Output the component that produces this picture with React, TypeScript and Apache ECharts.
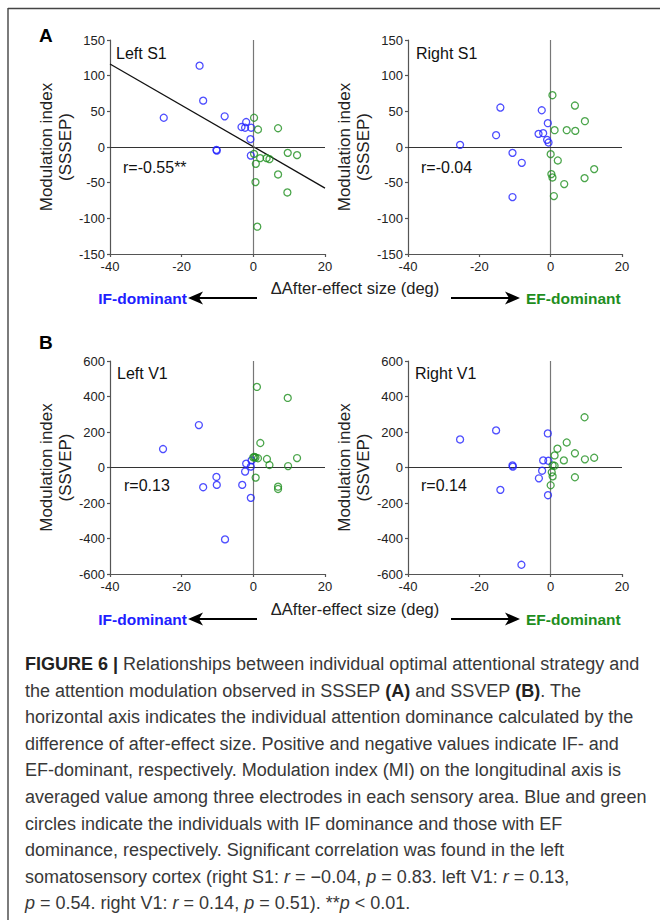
import React, { useEffect, useRef } from "react";
import * as echarts from "echarts";

const FONT = '"Liberation Sans", Arial, Helvetica, sans-serif';
const BLUE = "#2020ff";
const GREEN = "#1e8e1e";

// x-axis: ΔAfter-effect size (deg); y: modulation index
const xRange = { min: -40, max: 20, interval: 20 };

const leftS1Blue: [number, number][] = [
  [-15, 114], [-14, 65], [-25, 41], [-8, 43], [-10.3, -4], [-10.2, -5],
  [-2, 35], [-3.3, 28], [-2.3, 27], [-0.6, 27], [-0.8, 11], [-0.7, -12],
];
const leftS1Green: [number, number][] = [
  [0.2, 41], [1.3, 24.5], [6.9, 26.3], [0.2, -9.6], [0.7, -23.6], [1.9, -15.6],
  [3.7, -15.6], [4.5, -17], [9.6, -8.2], [12.2, -11.4], [6.9, -38.5], [0.6, -49.2],
  [9.5, -63.7], [1.1, -111.7],
];
const leftS1Regression: [number, number][] = [[-40, 116.4], [20, -57.6]];

const rightS1Blue: [number, number][] = [
  [-25.4, 3], [-14.1, 55.3], [-15.3, 16.6], [-10.7, -8.2], [-8.1, -22.2], [-10.7, -70.2],
  [-2.5, 51.5], [-0.8, 33.4], [-3.4, 18.4], [-2.1, 19.4], [-1.0, 10], [-0.6, 6.3],
];
const rightS1Green: [number, number][] = [
  [0.5, 72.6], [6.8, 58.1], [9.6, 36.2], [1.1, 23.6], [4.5, 23.6], [6.9, 22.6],
  [0.0, -10], [2.0, -18.9], [0.2, -38], [0.5, -42.7], [3.8, -52], [9.5, -43.6],
  [12.2, -31], [0.9, -68.8],
];

const leftV1Blue: [number, number][] = [
  [-25.2, 104], [-15.2, 239], [-14.0, -111], [-10.3, -53], [-10.2, -98], [-7.9, -405],
  [-3.1, -98], [-2.3, -23], [-2.0, 22], [-0.7, 5], [-0.5, 40], [-0.7, -171],
];
const leftV1Green: [number, number][] = [
  [1.0, 454], [9.6, 392], [1.95, 138], [0.0, 57], [0.6, 56], [1.3, 52],
  [3.8, 48], [12.2, 53], [4.5, 14], [9.7, 8], [0.65, -57], [6.9, -108],
  [6.9, -121], [0.3, 60],
];

const rightV1Blue: [number, number][] = [
  [-25.4, 158], [-15.3, 209], [-14.1, -126], [-10.7, 12], [-10.6, 5], [-8.2, -548],
  [-0.8, 192], [-2.1, 40], [-0.65, 38], [-2.4, -18], [-3.3, -61], [-0.75, -156],
];
const rightV1Green: [number, number][] = [
  [9.5, 283], [4.5, 141], [1.9, 106], [6.8, 80], [1.1, 68], [3.7, 40],
  [9.6, 46], [12.2, 55], [0.55, 12], [1.1, 10], [0.3, -27], [0.55, -50],
  [0.0, -100], [6.8, -55],
];

const panelTitles = ["Left S1", "Right S1", "Left V1", "Right V1"];
const panelStats = ["r=-0.55**", "r=-0.04", "r=0.13", "r=0.14"];
const yNames = [
  "Modulation index\n(SSSEP)",
  "Modulation index\n(SSSEP)",
  "Modulation index\n(SSVEP)",
  "Modulation index\n(SSVEP)",
];
const yRanges = [
  { min: -150, max: 150, interval: 50 },
  { min: -150, max: 150, interval: 50 },
  { min: -600, max: 600, interval: 200 },
  { min: -600, max: 600, interval: 200 },
];
const panelBlue = [leftS1Blue, rightS1Blue, leftV1Blue, rightV1Blue];
const panelGreen = [leftS1Green, rightS1Green, leftV1Green, rightV1Green];

const xAxisTitle = "ΔAfter-effect size (deg)";
const leftArrowLabel = "IF-dominant";
const rightArrowLabel = "EF-dominant";

const captionLines = [
  "{b|FIGURE 6 |} Relationships between individual optimal attentional strategy and",
  "the attention modulation observed in SSSEP {b|(A)} and SSVEP {b|(B)}. The",
  "horizontal axis indicates the individual attention dominance calculated by the",
  "difference of after-effect size. Positive and negative values indicate IF- and",
  "EF-dominant, respectively. Modulation index (MI) on the longitudinal axis is",
  "averaged value among three electrodes in each sensory area. Blue and green",
  "circles indicate the individuals with IF dominance and those with EF",
  "dominance, respectively. Significant correlation was found in the left",
  "somatosensory cortex (right S1: {i|r} = −0.04, {i|p} = 0.83. left V1: {i|r} = 0.13,",
  "{i|p} = 0.54. right V1: {i|r} = 0.14, {i|p} = 0.51). **{i|p} < 0.01.",
];

const grids = [
  { left: 110, top: 40, width: 215, height: 214 },
  { left: 408, top: 40, width: 214, height: 214 },
  { left: 110, top: 361, width: 215, height: 213 },
  { left: 408, top: 361, width: 214, height: 213 },
];

const AXIS_COLOR = "#555";

function arrow(x1: number, x2: number, y: number) {
  // x2 is the tip
  const dir = x2 > x1 ? 1 : -1;
  return [
    {
      type: "line",
      shape: { x1, y1: y, x2: x2 - dir * 8, y2: y },
      style: { stroke: "#000", lineWidth: 2.2 },
    },
    {
      type: "polygon",
      shape: {
        points: [
          [x2, y],
          [x2 - dir * 15, y - 6.5],
          [x2 - dir * 11, y],
          [x2 - dir * 15, y + 6.5],
        ],
      },
      style: { fill: "#000" },
    },
  ];
}

export default function App() {
  const ref = useRef<HTMLDivElement>(null);
  useEffect(() => {
    document.body.style.margin = "0";
    if (!ref.current) return;
    const chart = echarts.init(ref.current, null, { renderer: "svg" });

    const xAxes = grids.map((_, i) => ({
      gridIndex: i,
      type: "value",
      ...xRange,
      axisLine: { show: true, onZero: false, lineStyle: { color: AXIS_COLOR, width: 1.2 } },
      axisTick: { show: true, length: 3, lineStyle: { color: AXIS_COLOR, width: 1.2 } },
      axisLabel: { fontSize: 13, color: "#222", margin: 6, fontFamily: FONT },
      splitLine: { show: false },
    }));
    const yAxes = grids.map((_, i) => ({
      gridIndex: i,
      type: "value",
      ...yRanges[i],
      name: yNames[i],
      nameLocation: "middle",
      nameGap: 35,
      nameTextStyle: { fontSize: 17, lineHeight: 19, color: "#222", fontFamily: FONT },
      axisLine: { show: true, onZero: false, lineStyle: { color: AXIS_COLOR, width: 1.2 } },
      axisTick: { show: true, length: 3, lineStyle: { color: AXIS_COLOR, width: 1.2 } },
      axisLabel: { fontSize: 13, color: "#222", margin: 5, fontFamily: FONT },
      splitLine: { show: false },
    }));

    const series: any[] = [];
    grids.forEach((_, i) => {
      series.push({
        type: "scatter",
        xAxisIndex: i,
        yAxisIndex: i,
        data: panelBlue[i],
        symbol: "circle",
        symbolSize: 7,
        itemStyle: { color: "transparent", borderColor: BLUE, borderWidth: 1.3 },
        z: 5,
        markLine: {
          silent: true,
          symbol: ["none", "none"],
          label: { show: false },
          animation: false,
          data: [
            { xAxis: 0, lineStyle: { color: "#777", width: 1.2, type: "solid" } },
            { yAxis: 0, lineStyle: { color: "#333", width: 1.1, type: "solid" } },
          ],
        },
      });
      series.push({
        type: "scatter",
        xAxisIndex: i,
        yAxisIndex: i,
        data: panelGreen[i],
        symbol: "circle",
        symbolSize: 7,
        itemStyle: { color: "transparent", borderColor: GREEN, borderWidth: 1.3 },
        z: 5,
      });
    });
    series.push({
      type: "line",
      xAxisIndex: 0,
      yAxisIndex: 0,
      data: leftS1Regression,
      showSymbol: false,
      symbol: "none",
      lineStyle: { color: "#111", width: 1.3 },
      z: 3,
    });

    const graphic: any[] = [];
    // border
    graphic.push({ type: "line", shape: { x1: 8, y1: 8.5, x2: 660, y2: 8.5 }, style: { stroke: "#444", lineWidth: 1.6 } });
    graphic.push({ type: "line", shape: { x1: 8, y1: 8, x2: 8, y2: 920 }, style: { stroke: "#444", lineWidth: 1.4 } });
    // panel letters
    graphic.push({ type: "text", x: 39, y: 35, style: { text: "A", font: `bold 19px ${FONT}`, fill: "#000", verticalAlign: "middle" } });
    graphic.push({ type: "text", x: 39, y: 342, style: { text: "B", font: `bold 19px ${FONT}`, fill: "#000", verticalAlign: "middle" } });
    // panel titles and stats
    const titlePos = [[116, 53], [416, 53], [117, 373], [415, 373]];
    const statPos = [[123, 167], [421, 167], [124, 485], [421, 485]];
    grids.forEach((_, i) => {
      graphic.push({ type: "text", x: titlePos[i][0], y: titlePos[i][1], style: { text: panelTitles[i], font: `16px ${FONT}`, fill: "#111", verticalAlign: "middle" } });
      graphic.push({ type: "text", x: statPos[i][0], y: statPos[i][1], style: { text: panelStats[i], font: `16px ${FONT}`, fill: "#111", verticalAlign: "middle" } });
    });
    // x-axis titles and arrows
    const rows = [{ title: 288, arrow: 298 }, { title: 609, arrow: 619 }];
    rows.forEach((r) => {
      graphic.push({ type: "text", x: 355, y: r.title, style: { text: xAxisTitle, font: `16.5px ${FONT}`, fill: "#222", align: "center", verticalAlign: "middle" } });
      graphic.push(...arrow(257, 188, r.arrow));
      graphic.push(...arrow(451, 520, r.arrow));
      graphic.push({ type: "text", x: 187, y: r.arrow, style: { text: leftArrowLabel, font: `bold 15.5px ${FONT}`, fill: BLUE, align: "right", verticalAlign: "middle" } });
      graphic.push({ type: "text", x: 526, y: r.arrow, style: { text: rightArrowLabel, font: `bold 15.5px ${FONT}`, fill: GREEN, align: "left", verticalAlign: "middle" } });
    });
    // caption
    const capSize = 18;
    const base = { fontSize: capSize, fontFamily: FONT, fill: "#383838" };
    captionLines.forEach((line, k) => {
      graphic.push({
        type: "text",
        x: 25,
        y: 664 + k * 26.6,
        style: {
          text: line,
          ...base,
          verticalAlign: "middle",
          rich: {
            b: { ...base, fontWeight: "bold", fill: "#222" },
            i: { ...base, fontStyle: "italic" },
          },
        },
      });
    });

    chart.setOption({
      animation: false,
      backgroundColor: "#fff",
      grid: grids,
      xAxis: xAxes,
      yAxis: yAxes,
      series,
      graphic,
    });
    return () => chart.dispose();
  }, []);
  return <div ref={ref} style={{ width: 660, height: 920 }} />;
}
